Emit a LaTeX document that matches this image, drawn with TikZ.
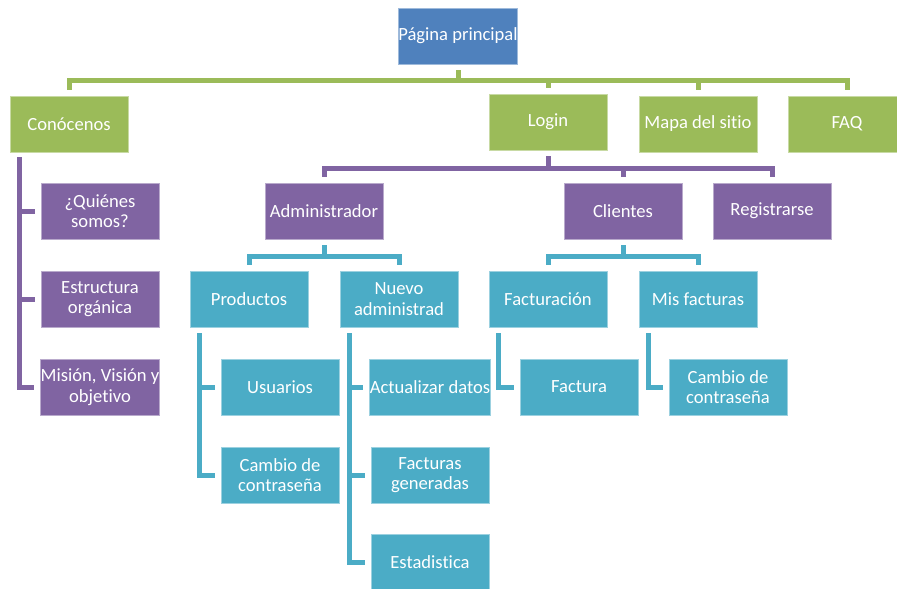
\documentclass[tikz,border=0pt]{standalone}
\usepackage{fontspec}
\setmainfont[Ligatures=NoCommon]{Carlito}
\definecolor{cblue}{HTML}{4F81BD}
\definecolor{cgreen}{HTML}{9BBB59}
\definecolor{cpurple}{HTML}{8064A2}
\definecolor{cteal}{HTML}{4BACC6}
\begin{document}
\begin{tikzpicture}[x=1pt,y=-1pt,
  box/.style={rectangle, minimum width=118pt, minimum height=56pt, inner sep=0pt,
    align=center, text=white, font=\fontsize{18.6}{20.5}\selectfont, line width=0.9pt},
  bblue/.style={box, fill=cblue, draw=cblue!55!white},
  bgreen/.style={box, fill=cgreen, draw=cgreen!55!white},
  bpurple/.style={box, fill=cpurple, draw=cpurple!55!white},
  bteal/.style={box, fill=cteal, draw=cteal!55!white},
  conn/.style={line width=5pt, line join=miter, line cap=butt},
]
\useasboundingbox (0,0) rectangle (897,589);
\clip (0,0) rectangle (897,589);

% level 0/1
\node[bblue] (root) at (458,36) {Página principal};
\node[bgreen] (con) at (69,124) {Conócenos};
\node[bgreen] (login) at (548,122) {Login};
\node[bgreen] (mapa) at (698,124) {Mapa del sitio};
\node[bgreen] (faq) at (847,124) {FAQ};

% Conócenos children
\node[bpurple] (q1) at (100,211) {¿Quiénes\\somos?};
\node[bpurple] (q2) at (100,299) {Estructura\\orgánica};
\node[bpurple] (q3) at (100,387) {Misión, Visión y\\objetivo};

% Login children
\node[bpurple] (admin) at (324,211) {Administrador};
\node[bpurple] (cli) at (623,211) {Clientes};
\node[bpurple] (reg) at (772,211) {Registrarse};

% level 3
\node[bteal] (prod) at (249,299) {Productos};
\node[bteal] (nuevo) at (399,299) {Nuevo\\administrad};
\node[bteal] (fact) at (548,299) {Facturación};
\node[bteal] (mis) at (698,299) {Mis facturas};

% level 4
\node[bteal] (usu) at (280,387) {Usuarios};
\node[bteal] (camb1) at (280,475) {Cambio de\\contraseña};
\node[bteal] (act) at (430,387) {Actualizar datos};
\node[bteal] (facg) at (430,475) {Facturas\\generadas};
\node[bteal] (est) at (430,562) {Estadistica};
\node[bteal] (factura) at (579,387) {Factura};
\node[bteal] (camb2) at (728,387) {Cambio de\\contraseña};

% bar levels
\coordinate (gbar) at (0,80);
\coordinate (pbar) at (0,168);
\coordinate (tbar) at (0,256);

% green connectors
\foreach \c in {con,login,mapa,faq}
  \draw[conn,cgreen] ([yshift=-6pt]root.south) |- (\c |- gbar) -- ([yshift=6pt]\c.north);

% purple connectors from Login
\foreach \c in {admin,cli,reg}
  \draw[conn,cpurple] ([yshift=-6pt]login.south) |- (\c |- pbar) -- ([yshift=6pt]\c.north);

% teal connectors
\foreach \c in {prod,nuevo}
  \draw[conn,cteal] ([yshift=-6pt]admin.south) |- (\c |- tbar) -- ([yshift=6pt]\c.north);
\foreach \c in {fact,mis}
  \draw[conn,cteal] ([yshift=-6pt]cli.south) |- (\c |- tbar) -- ([yshift=6pt]\c.north);

% side connectors
\foreach \c in {q1,q2,q3}
  \draw[conn,cpurple] ([xshift=10pt,yshift=-5pt]con.south west) |- ([xshift=-6pt]\c.west);
\foreach \c in {usu,camb1}
  \draw[conn,cteal] ([xshift=10pt,yshift=-6pt]prod.south west) |- ([xshift=-6pt]\c.west);
\foreach \c in {act,facg,est}
  \draw[conn,cteal] ([xshift=10pt,yshift=-6pt]nuevo.south west) |- ([xshift=-6pt]\c.west);
\draw[conn,cteal] ([xshift=10pt,yshift=-6pt]fact.south west) |- ([xshift=-6pt]factura.west);
\draw[conn,cteal] ([xshift=10pt,yshift=-6pt]mis.south west) |- ([xshift=-6pt]camb2.west);
\end{tikzpicture}
\end{document}
